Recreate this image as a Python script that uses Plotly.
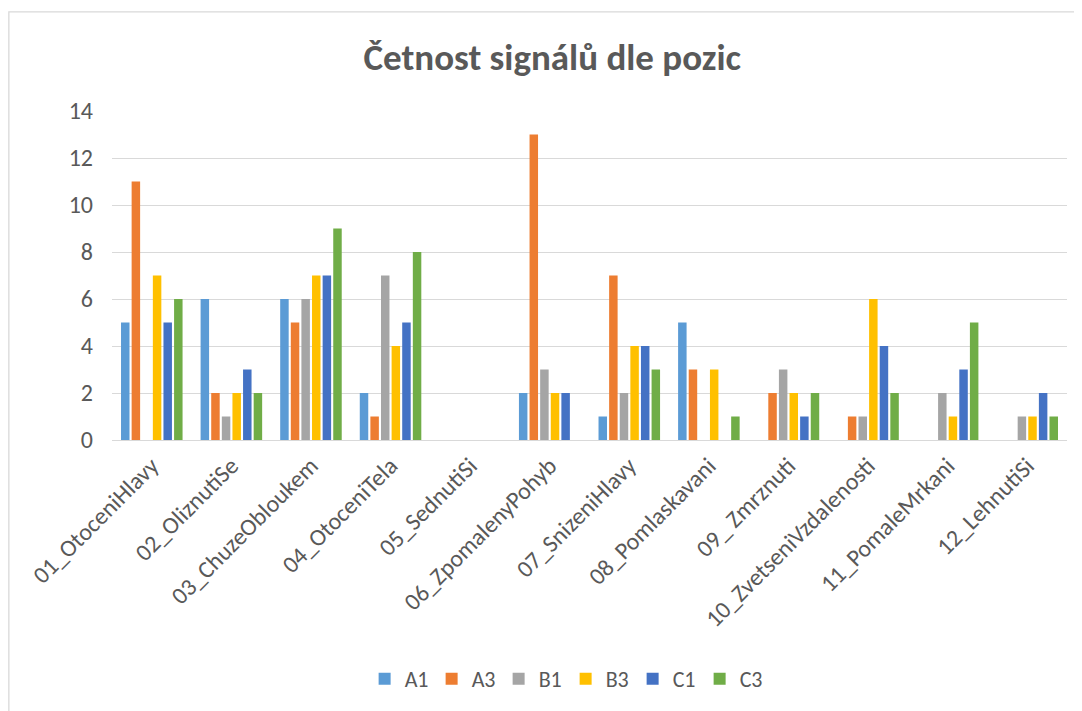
import plotly.graph_objects as go

categories = ["01_OtoceniHlavy", "02_OliznutiSe", "03_ChuzeObloukem", "04_OtoceniTela",
              "05_SednutiSi", "06_ZpomalenyPohyb", "07_SnizeniHlavy", "08_Pomlaskavani",
              "09_ Zmrznuti", "10_ZvetseniVzdalenosti", "11_PomaleMrkani", "12_LehnutiSi"]

A1 = [5, 6, 6, 2, 0, 2, 1, 5, 0, 0, 0, 0]
A3 = [11, 2, 5, 1, 0, 13, 7, 3, 2, 1, 0, 0]
B1 = [0, 1, 6, 7, 0, 3, 2, 0, 3, 1, 2, 1]
B3 = [7, 2, 7, 4, 0, 2, 4, 3, 2, 6, 1, 1]
C1 = [5, 3, 7, 5, 0, 2, 4, 0, 1, 4, 3, 2]
C3 = [6, 2, 9, 8, 0, 0, 3, 1, 2, 2, 5, 1]

series = [("A1", A1, "#5B9BD5"), ("A3", A3, "#ED7D31"), ("B1", B1, "#A5A5A5"),
          ("B3", B3, "#FFC000"), ("C1", C1, "#4472C4"), ("C3", C3, "#70AD47")]

FONT = "Calibri, Carlito, 'Open Sans', sans-serif"

fig = go.Figure()
for name, vals, color in series:
    fig.add_trace(go.Bar(
        x=categories, y=[v if v != 0 else None for v in vals], name=name,
        marker=dict(color=color, line=dict(width=0))
    ))

fig.update_layout(
    width=1082, height=711,
    paper_bgcolor="white", plot_bgcolor="white",
    margin=dict(l=104, r=23, t=103, b=279),
    barmode="group", bargap=0.2, bargroupgap=0.2,
    font=dict(family=FONT, color="#595959", size=24),
    title=dict(text="<b>Četnost signálů dle pozic</b>", x=0.503, xanchor="center",
               y=1 - 49 / 711, yanchor="middle",
               font=dict(family=FONT, size=37, color="#595959")),
    legend=dict(orientation="h", x=0.475, xanchor="center", y=-0.726, yanchor="middle",
                font=dict(size=22, color="#595959"), itemwidth=30,
                entrywidth=22, entrywidthmode="pixels",
                traceorder="normal"),
    xaxis=dict(tickangle=-45, showgrid=False, showline=False, ticks="",
               tickfont=dict(size=24, color="#595959"), ticklabelstandoff=6),
    yaxis=dict(range=[0, 14], dtick=2, showgrid=True, gridcolor="#D9D9D9", gridwidth=1.3,
               zeroline=True, zerolinecolor="#D9D9D9", zerolinewidth=1.3,
               ticks="", ticklen=0, tickfont=dict(size=24, color="#595959"),
               ticklabelstandoff=18),
    shapes=[dict(type="rect", xref="paper", yref="paper",
                 x0=-0.108, x1=1.05, y0=-0.9, y1=1.301,
                 line=dict(color="#D9D9D9", width=1.3), fillcolor="rgba(0,0,0,0)", layer="below")],
)

fig.write_html("out.html")
